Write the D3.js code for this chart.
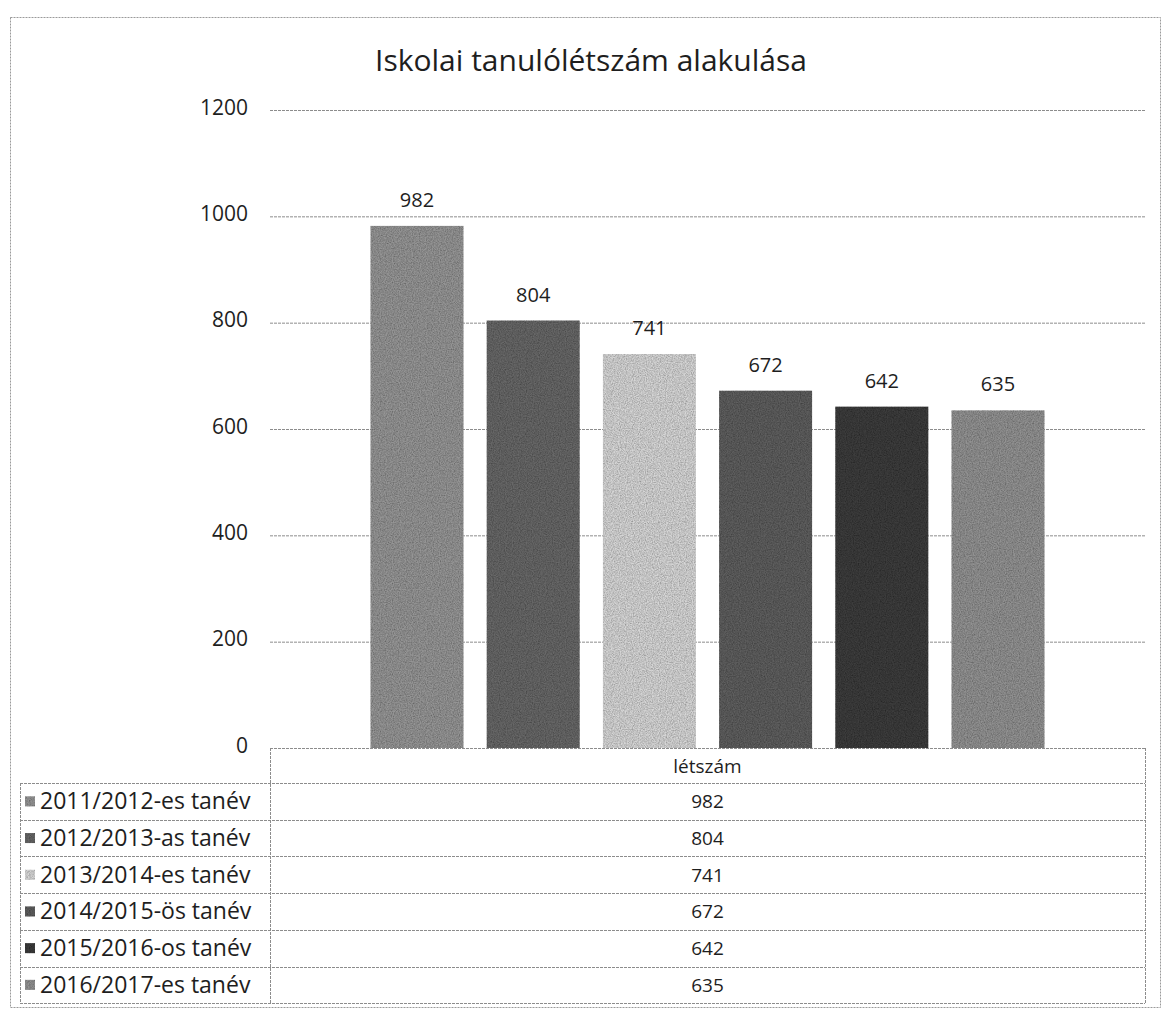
<!DOCTYPE html>
<html>
<head>
<meta charset="utf-8">
<script src="https://cdn.jsdelivr.net/npm/d3@7"></script>
<style>
  html, body { margin: 0; padding: 0; background: #fff; }
  svg { display: block; }
  text { font-family: "Open Sans", "Noto Sans", sans-serif; fill: #1e1e1e; }
</style>
</head>
<body>
<svg id="chart" width="1162" height="1012"></svg>
<script>
// ---- data ----
const title = "Iskolai tanulólétszám alakulása";
const category = "létszám";
const seriesNames = [
  "2011/2012-es tanév",
  "2012/2013-as tanév",
  "2013/2014-es tanév",
  "2014/2015-ös tanév",
  "2015/2016-os tanév",
  "2016/2017-es tanév"
];
const seriesValues = [982, 804, 741, 672, 642, 635];
const yTicks = [0, 200, 400, 600, 800, 1000, 1200];
const seriesColors = ["#959595", "#676767", "#d6d6d6", "#5f5f5f", "#3c3c3c", "#929292"];

// ---- layout ----
const svg = d3.select("#chart");
const plot = { left: 270, right: 1145, top: 110, bottom: 748 };
const tableRowH = 36.7;
const headerH = 35;

const defs = svg.append("defs");
const f = defs.append("filter").attr("id", "grain").attr("x", 0).attr("y", 0).attr("width", 1).attr("height", 1);
f.append("feTurbulence").attr("type", "fractalNoise").attr("baseFrequency", 0.85).attr("numOctaves", 2).attr("seed", 3).attr("result", "n");
f.append("feColorMatrix").attr("in", "n").attr("type", "matrix")
  .attr("values", "0 0 0 0 0  0 0 0 0 0  0 0 0 0 0  0.9 0 0 0 -0.25").attr("result", "a");
f.append("feComposite").attr("in", "a").attr("in2", "SourceGraphic").attr("operator", "in").attr("result", "dots");
f.append("feMerge").call(m => { m.append("feMergeNode").attr("in", "SourceGraphic"); m.append("feMergeNode").attr("in", "dots"); });

// outer frame
svg.append("rect").attr("x", 10.5).attr("y", 17.5).attr("width", 1150).attr("height", 990)
  .attr("fill", "none").attr("stroke", "#9a9a9a").attr("stroke-width", 1).attr("stroke-dasharray", "2,1");

// title
svg.append("text").attr("x", 591).attr("y", 71).attr("text-anchor", "middle")
  .attr("font-size", 30).text(title);

// scales
const y = d3.scaleLinear().domain([0, 1200]).range([plot.bottom, plot.top]);
const x0 = d3.scaleBand().domain([category]).range([plot.left, plot.right]).paddingInner(0).paddingOuter(0);
const x1 = d3.scaleBand().domain(seriesNames).range([0, x0.bandwidth()]).paddingInner(0.2).paddingOuter(0.865);

// gridlines
const grid = svg.append("g").attr("transform", `translate(${plot.left},0)`)
  .call(d3.axisLeft(y).tickValues(yTicks).tickSize(-(plot.right - plot.left)).tickFormat(""));
grid.select(".domain").remove();
grid.selectAll("line").attr("stroke", "#8c8c8c").attr("stroke-width", 1).attr("stroke-dasharray", "3,1");

// y tick labels
const yAxis = svg.append("g").attr("transform", `translate(${plot.left - 22},0)`)
  .call(d3.axisLeft(y).tickValues(yTicks).tickSize(0).tickPadding(0).tickFormat(d3.format("d")));
yAxis.select(".domain").remove();
yAxis.selectAll("text").attr("font-size", 21).attr("fill", "#1e1e1e")
  .attr("font-family", "'Open Sans', sans-serif").attr("dy", "0.2em");

// bars
const bars = svg.append("g").attr("transform", `translate(${x0(category)},0)`);
bars.selectAll("rect").data(seriesValues).join("rect")
  .attr("x", (d, i) => x1(seriesNames[i]))
  .attr("y", d => y(d))
  .attr("width", x1.bandwidth())
  .attr("height", d => y(0) - y(d))
  .attr("fill", (d, i) => seriesColors[i])
  .attr("filter", "url(#grain)");

// data labels
bars.selectAll("text.lbl").data(seriesValues).join("text").attr("class", "lbl")
  .attr("x", (d, i) => x1(seriesNames[i]) + x1.bandwidth() / 2)
  .attr("y", d => y(d) - 19)
  .attr("text-anchor", "middle").attr("font-size", 20)
  .text(d => d);

// ---- data table ----
const tbl = svg.append("g");
const tableTop = plot.bottom;
const tableBottom = tableTop + headerH + tableRowH * seriesNames.length;
const labelLeft = 20;
const lineStyle = s => s.attr("stroke", "#8c8c8c").attr("stroke-width", 1).attr("stroke-dasharray", "3,1").attr("fill", "none");

// header line (axis baseline) and vertical lines
tbl.append("line").attr("x1", plot.left).attr("x2", plot.right).attr("y1", tableTop + 0.5).attr("y2", tableTop + 0.5).call(lineStyle);
tbl.append("line").attr("x1", plot.left + 0.5).attr("x2", plot.left + 0.5).attr("y1", tableTop).attr("y2", tableBottom).call(lineStyle);
tbl.append("line").attr("x1", plot.right + 0.5).attr("x2", plot.right + 0.5).attr("y1", tableTop).attr("y2", tableBottom).call(lineStyle);
tbl.append("line").attr("x1", labelLeft + 0.5).attr("x2", labelLeft + 0.5).attr("y1", tableTop + headerH).attr("y2", tableBottom).call(lineStyle);

// horizontal row lines
const rowLines = d3.range(seriesNames.length + 1).map(i => tableTop + headerH + i * tableRowH);
tbl.selectAll("line.row").data(rowLines).join("line").attr("class", "row")
  .attr("x1", labelLeft).attr("x2", plot.right)
  .attr("y1", d => Math.round(d) + 0.5).attr("y2", d => Math.round(d) + 0.5).call(lineStyle);

// header text
tbl.append("text").attr("x", (plot.left + plot.right) / 2).attr("y", tableTop + headerH / 2 + 7)
  .attr("text-anchor", "middle").attr("font-size", 19).text(category);

// rows
const rows = tbl.selectAll("g.r").data(seriesNames).join("g").attr("class", "r")
  .attr("transform", (d, i) => `translate(0,${tableTop + headerH + i * tableRowH})`);
rows.append("rect").attr("x", 25).attr("y", tableRowH / 2 - 5).attr("width", 10).attr("height", 10)
  .attr("fill", (d, i) => seriesColors[i]).attr("filter", "url(#grain)");
rows.append("text").attr("x", 40).attr("y", tableRowH / 2 + 8).attr("font-size", 23).text(d => d);
rows.append("text").attr("x", (plot.left + plot.right) / 2).attr("y", tableRowH / 2 + 7)
  .attr("text-anchor", "middle").attr("font-size", 19).text((d, i) => seriesValues[i]);
</script>
</body>
</html>
